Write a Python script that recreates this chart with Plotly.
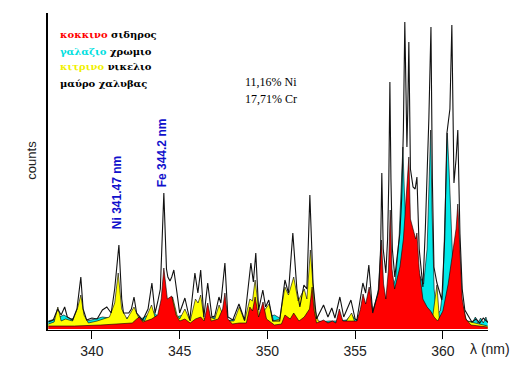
import plotly.graph_objects as go

# ---- data (wavelength in nm, intensity in arbitrary counts) ----
steel_x = [337.52,337.8,338.05,338.25,338.45,338.6,338.9,339.15,339.37,339.5,339.7,340.0,340.3,340.6,340.85,
           341.1,341.3,341.54,341.7,341.8,342.1,342.25,342.4,342.55,342.9,343.2,343.42,343.6,343.75,343.9,
           344.1,344.25,344.33,344.45,344.55,344.67,344.85,345.0,345.3,345.58,345.87,346.04,346.2,346.38,
           346.6,346.84,347.0,347.24,347.35,347.58,347.75,348.03,348.38,348.7,349.06,349.2,349.34,349.5,
           349.74,349.9,350.08,350.3,350.7,351.0,351.2,351.45,351.68,351.85,352.08,352.25,352.42,352.6,
           352.8,353.2,353.45,353.67,353.85,354.13,354.35,354.76,355.0,355.1,355.44,355.6,355.78,356.0,
           356.35,356.45,356.52,356.6,356.75,356.85,356.92,356.98,357.04,357.12,357.26,357.55,357.65,357.75,
           357.83,357.9,357.95,358.0,358.06,358.15,358.3,358.42,358.52,358.65,358.86,359.0,359.09,359.2,
           359.32,359.4,359.49,359.66,359.94,360.1,360.23,360.4,360.51,360.58,360.63,360.75,360.85,360.97,
           361.1,361.25,361.65,361.9,362.1,362.3,362.55]
steel_y = [7,9,20,14,22,12,9,20,52,20,9,11,10,19,22,
           16,40,84,30,16,16,20,32,16,9,20,46,16,27,40,
           136,60,52,48,52,59,36,16,31,9,56,36,59,12,
           46,12,13,32,26,66,12,9,25,9,66,47,76,19,
           39,22,29,8,8,49,36,96,40,22,44,40,134,46,
           10,24,12,21,11,32,12,29,10,9,46,36,64,16,
           40,80,156,80,56,90,150,247,150,80,52,96,130,200,
           307,200,182,220,287,160,142,140,152,80,42,100,146,210,
           302,150,62,46,29,90,196,220,304,200,146,170,199,96,
           40,19,7,10,6,11,7]

iron_x = [337.52,339.0,340.5,341.5,342.3,342.55,342.7,342.9,343.4,343.75,343.95,344.1,344.2,344.3,344.55,
          344.8,345.0,345.3,345.6,345.9,346.2,346.4,346.6,346.8,347.2,347.45,347.58,347.75,348.0,348.4,
          348.8,349.0,349.15,349.3,349.5,349.75,349.95,350.1,350.4,350.8,351.0,351.3,351.5,351.8,352.1,
          352.4,352.55,352.65,352.8,353.2,353.45,353.7,353.9,354.1,354.3,354.8,355.1,355.3,355.45,355.6,
          355.8,356.0,356.3,356.5,356.62,356.75,356.9,357.0,357.1,357.25,357.55,357.75,357.95,358.06,
          358.15,358.3,358.45,358.52,358.65,358.86,359.1,359.3,359.5,359.7,360.0,360.3,360.6,360.75,
          360.85,360.95,361.1,361.3,361.6,362.55]
iron_y = [3,3,4,5,6,10,12,7,10,14,30,61,45,30,33,
          14,8,10,6,10,12,8,26,8,10,20,36,10,5,6,
          6,22,18,32,12,27,10,8,4,5,14,10,16,8,12,
          20,42,20,6,9,6,8,6,20,8,8,8,20,35,25,
          42,18,35,89,45,30,60,119,60,40,62,90,140,172,
          110,100,90,96,60,30,22,18,12,8,18,45,80,100,
          125,90,30,10,4,2]

chromium_x = [337.52,337.9,338.4,338.8,339.3,339.7,340.2,340.6,341.0,341.5,341.8,342.2,342.5,342.8,343.2,
              343.45,343.8,344.1,344.4,344.8,345.2,345.5,345.9,346.3,346.6,347.0,347.3,347.7,348.2,348.5,
              348.8,349.3,349.7,350.1,350.4,350.8,351.2,351.7,352.2,352.6,353.0,353.5,354.0,354.5,354.8,
              355.1,355.5,356.0,356.5,356.8,357.1,357.3,357.5,357.62,357.72,357.8,357.9,358.1,358.5,358.9,
              359.1,359.22,359.3,359.38,359.5,359.65,359.85,360.0,360.12,360.25,360.35,360.45,360.6,360.85,
              361.1,361.4,361.7,361.85,362.0,362.15,362.3,362.45,362.55]
chromium_y = [8,10,14,10,12,8,10,12,11,14,10,12,14,10,14,
              18,12,20,10,12,14,8,10,8,10,12,10,8,10,12,
              8,10,10,12,14,10,10,8,10,8,7,8,8,9,14,
              8,10,14,28,32,40,50,90,140,182,140,100,80,60,45,
              80,150,199,120,40,15,18,40,110,196,160,120,50,35,
              15,8,7,12,6,11,6,12,6]

nickel_x = [337.52,337.85,338.06,338.25,338.5,338.9,339.2,339.37,339.55,339.8,340.3,340.7,341.0,341.3,341.5,
            341.7,342.0,342.4,342.7,343.0,343.4,343.6,343.9,344.1,344.4,344.6,344.85,345.0,345.3,345.6,
            345.9,346.05,346.2,346.4,346.7,347.0,347.25,347.5,347.8,348.1,348.4,348.7,349.0,349.15,349.3,
            349.55,349.8,350.1,350.35,350.7,351.0,351.2,351.5,351.75,352.1,352.25,352.45,352.7,352.9,353.5,
            354.0,354.5,354.8,355.0,355.5,356.5,359.4,359.55,359.66,359.8,360.9,361.15,361.35,362.55]
nickel_y = [5,7,22,8,10,8,22,34,14,6,8,10,12,26,56,
            20,10,22,10,8,24,12,14,20,16,32,14,10,20,8,
            30,26,34,10,12,10,24,12,8,8,22,8,30,28,49,
            14,18,25,8,10,42,34,52,28,40,30,79,20,8,6,
            6,8,16,6,5,5,10,30,44,10,10,22,8,3]

x_ticks = [340, 345, 350, 355, 360]

legend_lines = [("κοκκινο", "#ff0000", "σιδηρος"),
                ("γαλαζιο", "#00e0e0", "χρωμιο"),
                ("κιτρινο", "#f0f000", "νικελιο"),
                ("", "#000000", "μαύρο χαλυβας")]
composition = ["11,16% Ni", "17,71% Cr"]
line_labels = ["Ni 341.47 nm", "Fe 344.2 nm"]

# ---- figure ----
fig = go.Figure()
fig.add_trace(go.Scatter(x=chromium_x, y=chromium_y, fill="tozeroy", fillcolor="#00e8e8",
                         mode="lines", line=dict(color="#000000", width=0.6), hoverinfo="skip"))
fig.add_trace(go.Scatter(x=nickel_x, y=nickel_y, fill="tozeroy", fillcolor="#ffff00",
                         mode="lines", line=dict(color="#000000", width=0.6), hoverinfo="skip"))
fig.add_trace(go.Scatter(x=iron_x, y=iron_y, fill="tozeroy", fillcolor="#ff0000",
                         mode="lines", line=dict(color="#000000", width=0.6), hoverinfo="skip"))
fig.add_trace(go.Scatter(x=steel_x, y=steel_y, mode="lines",
                         line=dict(color="#111111", width=1.1), hoverinfo="skip"))

annotations = []
leg_y = [0.931, 0.880, 0.830, 0.777]
for (word, col, rest), yy in zip(legend_lines, leg_y):
    txt = (f"<span style='color:{col}'>{word}</span> " if word else "") + rest
    annotations.append(dict(xref="paper", yref="paper", x=0.022, y=yy, xanchor="left", yanchor="middle",
                            text=f"<b>{txt}</b>", showarrow=False,
                            font=dict(family="DejaVu Serif", size=10, color="#000000")))
for t, yy in zip(composition, [0.782, 0.729]):
    annotations.append(dict(xref="paper", yref="paper", x=0.443, y=yy, xanchor="left", yanchor="middle",
                            text=t, showarrow=False,
                            font=dict(family="Liberation Serif", size=12, color="#000000")))
for t, xx, yy in zip(line_labels, [0.157, 0.261], [0.432, 0.56]):
    annotations.append(dict(xref="paper", yref="paper", x=xx, y=yy, xanchor="center", yanchor="middle",
                            text=f"<b>{t}</b>", textangle=-90, showarrow=False,
                            font=dict(family="Arial", size=12, color="#1010cc")))
annotations.append(dict(xref="paper", yref="paper", x=-0.059, y=0.536, text="counts", textangle=-90,
                        showarrow=False, font=dict(family="Arial", size=13, color="#222222")))
annotations.append(dict(xref="paper", yref="paper", x=1.055, y=-0.06, xanchor="right", yanchor="middle",
                        text="λ (nm)", showarrow=False, font=dict(family="Arial", size=14, color="#222222")))

# the page body adds an 8 px margin, so the figure is 8 px smaller and margins shifted
fig.update_layout(
    width=511, height=357, autosize=False,
    margin=dict(l=40, r=31, t=5, b=35),
    paper_bgcolor="white", plot_bgcolor="white",
    showlegend=False,
    annotations=annotations,
    xaxis=dict(range=[337.5, 362.57], tickvals=x_ticks, ticks="outside", ticklen=8, tickcolor="#000000",
               showline=True, linecolor="#000000", linewidth=1, showgrid=False, zeroline=False,
               tickfont=dict(family="Arial", size=14, color="#222222")),
    yaxis=dict(range=[-1, 316], showticklabels=False, ticks="", showline=True, linecolor="#000000",
               linewidth=2, showgrid=False, zeroline=False),
)

fig.write_html("out.html")
